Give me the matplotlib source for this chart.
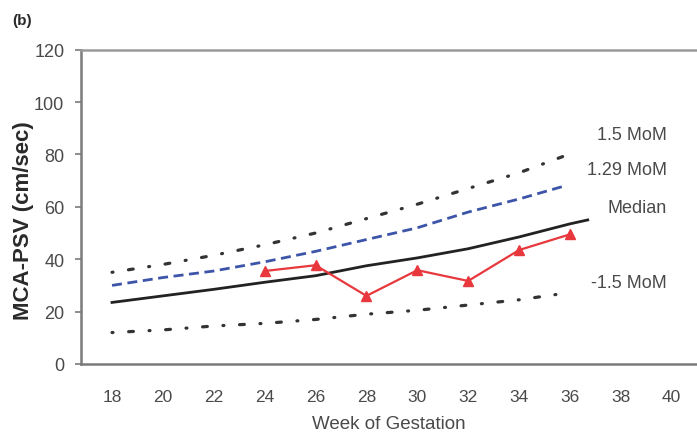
"""MCA-PSV reference curves by week of gestation, panel (b)."""

import matplotlib.pyplot as plt

plt.rcParams["font.family"] = ["Liberation Sans", "DejaVu Sans"]

# reference curves
CURVE_WEEKS = [18, 20, 22, 24, 26, 28, 30, 32, 34, 35.8]
MOM_150 = [35, 38, 41.5, 45.5, 50, 55.5, 61, 67, 73, 79.5]
MOM_129 = [30, 33, 35.5, 39, 43, 47.5, 52, 58, 63, 68]
MOM_NEG_150 = [12, 13, 14.5, 15.5, 17, 19, 20.5, 22.5, 24.5, 27]

MEDIAN_WEEKS = [18, 20, 22, 24, 26, 28, 30, 32, 34, 36, 36.7]
MEDIAN = [23.5, 26, 28.5, 31.2, 33.7, 37.5, 40.5, 44, 48.5, 53.5, 55]

# patient measurements
PATIENT_WEEKS = [24, 26, 28, 30, 32, 34, 36]
PATIENT_PSV = [35.5, 37.7, 26, 35.8, 31.7, 43.5, 49.5]

X_TICKS = [18, 20, 22, 24, 26, 28, 30, 32, 34, 36, 38, 40]
Y_TICKS = [0, 20, 40, 60, 80, 100, 120]

CURVE_LABELS = [
    ("1.5 MoM", 87.6),
    ("1.29 MoM", 74.3),
    ("Median", 59.8),
    ("-1.5 MoM", 31.2),
]

TEXT_COLOR = "#4a4a4a"
SPINE_COLOR = "#7a7a7a"
RED = "#e8383d"
BLUE = "#3d55a8"
DARK = "#222222"
DOTTED = (0, (0.3, 4.9, 1.5, 4.9))

fig = plt.figure(figsize=(6.97, 4.35), dpi=100)
ax = fig.add_axes([0.1162, 0.161, 0.884, 0.7224])

ax.plot(CURVE_WEEKS, MOM_150, color="#333333", linewidth=2.3,
        linestyle=DOTTED, dash_capstyle="round")
ax.plot(CURVE_WEEKS, MOM_129, color=BLUE, linewidth=2.0,
        linestyle=(0, (3.6, 2.0)))
ax.plot(MEDIAN_WEEKS, MEDIAN, color=DARK, linewidth=2.0)
ax.plot(CURVE_WEEKS, MOM_NEG_150, color="#333333", linewidth=2.3,
        linestyle=DOTTED, dash_capstyle="round")
ax.plot(PATIENT_WEEKS, PATIENT_PSV, color=RED, linewidth=1.6,
        marker="^", markersize=7, markerfacecolor=RED, markeredgecolor=RED)

for label, y in CURVE_LABELS:
    ax.text(39.8, y, label, ha="right", va="center", fontsize=13,
            color=TEXT_COLOR)

ax.set_xlim(16.78, 41.0)
ax.set_ylim(0, 120)
ax.set_xticks(X_TICKS)
ax.set_yticks(Y_TICKS)
ax.tick_params(axis="x", length=0, pad=18, labelsize=12.5, labelcolor=TEXT_COLOR)
ax.tick_params(axis="y", direction="out", length=4, width=1.2,
               color=SPINE_COLOR, pad=8, labelsize=13, labelcolor=TEXT_COLOR)

for side in ["left", "bottom"]:
    ax.spines[side].set_color(SPINE_COLOR)
    ax.spines[side].set_linewidth(1.8)
ax.spines["top"].set_color("#9a9a9a")
ax.spines["top"].set_linewidth(1.8)
ax.spines["right"].set_visible(False)

ax.set_xlabel("Week of Gestation", fontsize=13.5, color=TEXT_COLOR, labelpad=8)
ax.set_ylabel("MCA-PSV (cm/sec)", fontsize=16, fontweight="bold",
              color="#2a2a2a")
ax.yaxis.set_label_coords(-0.094, 0.46)
ax.yaxis.label.set_verticalalignment("center")

fig.text(0.017, 0.943, "(b)", fontsize=11, fontweight="bold", color="#2a2a2a")

fig.savefig("out.png", dpi=100)
